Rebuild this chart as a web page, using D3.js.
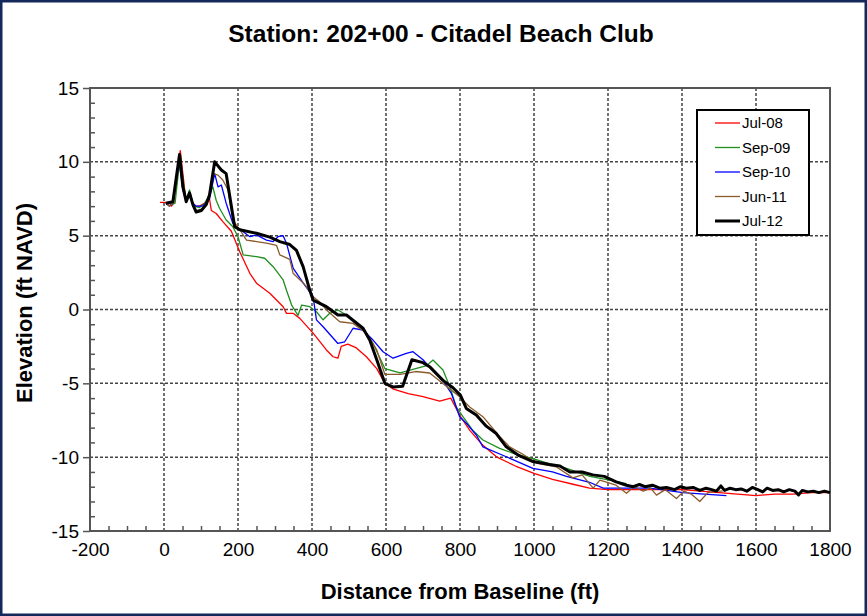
<!DOCTYPE html>
<html>
<head>
<meta charset="utf-8">
<script src="https://cdn.jsdelivr.net/npm/d3@7"></script>
<style>
  body { margin: 0; background: #fff; }
  svg { font-family: "Liberation Sans", Arial, sans-serif; }
</style>
</head>
<body>
<div id="chart"></div>
<script>

const title = "Station: 202+00 - Citadel Beach Club";
const xLabel = "Distance from Baseline (ft)";
const yLabel = "Elevation (ft NAVD)";

const xTicks = [-200, 0, 200, 400, 600, 800, 1000, 1200, 1400, 1600, 1800];
const yTicks = [-15, -10, -5, 0, 5, 10, 15];

const seriesNames = ["Jul-08", "Sep-09", "Sep-10", "Jun-11", "Jul-12"];

const jul08X = [-11, 14, 20, 26, 44, 51, 59, 68, 74, 83, 96, 110, 123, 128, 141, 159, 182, 205, 232, 250, 286, 322, 331, 349, 367, 403, 439, 457, 470, 479, 497, 520, 547, 575, 597, 620, 660, 700, 745, 775, 800, 827, 862, 900, 950, 1000, 1050, 1100, 1150, 1200, 1270, 1350, 1400, 1450, 1500, 1550, 1600, 1650, 1700, 1750, 1800];
const jul08Y = [7.25, 7.24, 7.0, 7.2, 10.76, 9.2, 7.4, 7.76, 7.4, 7.0, 7.0, 7.2, 7.5, 6.7, 6.5, 5.95, 5.3, 3.9, 2.45, 1.78, 1.1, 0.19, -0.26, -0.26, -0.6, -1.6, -2.74, -3.2, -3.3, -2.5, -2.34, -2.6, -3.2, -4.0, -5.0, -5.4, -5.7, -5.9, -6.2, -6.0, -7.2, -8.2, -9.2, -10.0, -10.6, -11.1, -11.5, -11.8, -12.1, -12.2, -12.2, -12.2, -12.2, -12.3, -12.4, -12.5, -12.6, -12.5, -12.5, -12.4, -12.4];

const sep09X = [20, 30, 44, 51, 60, 69, 80, 96, 110, 119, 132, 141, 150, 168, 186, 200, 214, 250, 272, 295, 322, 331, 345, 362, 372, 394, 412, 430, 448, 470, 493, 529, 547, 565, 597, 638, 680, 710, 727, 754, 772, 790, 808, 835, 862, 907, 950, 997, 1050, 1088, 1151, 1205, 1250];
const sep09Y = [7.1, 7.2, 10.5, 8.8, 7.4, 8.1, 7.0, 6.9, 7.2, 7.6, 8.3, 7.4, 6.86, 6.06, 5.6, 4.93, 3.7, 3.58, 3.47, 2.9, 2.0, 1.3, 0.3, -0.4, 0.3, 0.19, -0.15, -0.7, -0.26, -0.03, -0.37, -1.17, -1.6, -2.3, -4.0, -4.3, -4.0, -3.8, -3.42, -4.1, -5.2, -6.6, -7.26, -8.2, -8.84, -9.4, -9.8, -10.1, -10.5, -10.76, -11.3, -11.55, -11.8];

const sep10X = [5, 15, 24, 40, 51, 60, 69, 78, 87, 105, 123, 137, 146, 155, 168, 186, 196, 232, 250, 277, 295, 308, 322, 331, 349, 376, 403, 412, 430, 470, 488, 511, 538, 565, 592, 619, 655, 673, 700, 718, 754, 777, 799, 817, 844, 862, 925, 997, 1050, 1088, 1150, 1187, 1250, 1313, 1403, 1460, 1520];
const sep10Y = [7.2, 7.0, 7.2, 10.2, 8.1, 7.4, 7.7, 7.2, 7.0, 7.0, 7.5, 9.2, 8.3, 8.43, 7.2, 5.84, 5.6, 4.93, 5.05, 4.7, 4.6, 4.93, 5.0, 4.49, 2.8, 1.8, 0.87, -0.7, -1.17, -2.3, -2.2, -1.27, -1.4, -2.07, -2.86, -3.3, -2.97, -2.86, -3.4, -3.9, -4.8, -5.7, -7.26, -7.7, -8.5, -9.3, -9.97, -10.76, -11.0, -11.3, -11.7, -12.1, -12.1, -12.1, -12.4, -12.5, -12.6];

const jun11X = [5, 15, 24, 42, 51, 60, 69, 78, 87, 101, 114, 123, 133, 146, 159, 173, 186, 205, 223, 250, 277, 304, 313, 340, 349, 376, 385, 403, 421, 439, 475, 511, 547, 575, 597, 638, 680, 718, 763, 799, 826, 862, 907, 934, 970, 1006, 1060, 1105, 1130, 1160, 1178, 1222, 1250, 1270, 1295, 1315, 1331, 1355, 1385, 1405, 1425, 1448, 1470, 1493, 1510];
const jun11Y = [7.2, 7.0, 7.2, 10.4, 8.3, 7.3, 7.9, 7.1, 6.7, 6.8, 7.1, 7.7, 9.2, 9.1, 8.77, 8.1, 6.06, 5.4, 4.7, 4.6, 4.49, 4.35, 3.7, 3.4, 2.45, 1.8, 1.55, 0.87, 0.5, -0.03, -0.83, -0.94, -1.6, -2.74, -4.4, -4.4, -4.2, -4.3, -5.2, -5.9, -6.6, -7.26, -8.6, -9.3, -9.8, -10.4, -10.65, -11.4, -11.2, -12.1, -11.55, -11.9, -12.45, -12.0, -12.3, -12.1, -12.57, -12.2, -12.8, -12.3, -12.5, -13.0, -12.4, -12.3, -12.3];

const jul12X = [5, 24, 42, 51, 60, 69, 78, 87, 101, 114, 123, 137, 155, 168, 191, 205, 250, 286, 313, 340, 358, 376, 394, 403, 439, 470, 493, 538, 556, 575, 597, 620, 645, 670, 700, 719, 754, 781, 801, 817, 844, 871, 898, 925, 960, 997, 1042, 1070, 1097, 1130, 1159, 1190, 1222, 1250, 1268, 1285, 1300, 1320, 1340, 1358, 1380, 1395, 1412, 1430, 1448, 1465, 1480, 1493, 1505, 1515, 1530, 1545, 1560, 1575, 1590, 1605, 1618, 1630, 1645, 1660, 1675, 1690, 1705, 1715, 1725, 1740, 1755, 1770, 1785, 1800];
const jul12Y = [7.2, 7.3, 10.5, 8.3, 7.3, 7.9, 7.1, 6.6, 6.7, 7.1, 7.76, 10.0, 9.45, 9.2, 5.6, 5.4, 5.16, 4.9, 4.6, 4.4, 4.0, 2.9, 1.3, 0.64, 0.19, -0.37, -0.37, -1.27, -2.07, -3.4, -5.0, -5.25, -5.2, -3.4, -3.6, -3.9, -4.8, -5.3, -5.8, -6.7, -7.15, -7.9, -8.4, -9.3, -9.9, -10.3, -10.5, -10.6, -11.0, -11.0, -11.2, -11.3, -11.67, -11.9, -12.0, -11.85, -12.0, -11.9, -12.1, -12.05, -12.2, -12.0, -12.1, -12.05, -12.25, -12.1, -12.2, -12.3, -11.95, -12.25, -12.1, -12.2, -12.15, -12.3, -12.05, -12.2, -12.35, -12.1, -12.25, -12.2, -12.35, -12.2, -12.3, -12.55, -12.25, -12.35, -12.3, -12.4, -12.3, -12.4];

const seriesX = [jul08X, sep09X, sep10X, jun11X, jul12X];
const seriesY = [jul08Y, sep09Y, sep10Y, jun11Y, jul12Y];
const colors = ["#ff0000", "#1f8f1f", "#0000ff", "#8b5a2b", "#000000"];
const widths = [1.3, 1.3, 1.3, 1.3, 3];

const W = 867, H = 616;
const pLeft = 90, pRight = 830, pTop = 88, pBottom = 531;

const svg = d3.select("#chart")
    .append("svg")
    .attr("width", W)
    .attr("height", H);

svg.append("rect")
    .attr("x", 1.25).attr("y", 1.25)
    .attr("width", W - 2.5).attr("height", H - 2.5)
    .attr("fill", "#fff")
    .attr("stroke", "#13295b")
    .attr("stroke-width", 2.5);

const xScale = d3.scaleLinear().domain([-200, 1800]).range([pLeft, pRight]);
const yScale = d3.scaleLinear().domain([-15, 15]).range([pBottom, pTop]);

// grid
svg.append("g")
    .selectAll("line")
    .data(xTicks.slice(1, -1))
    .enter()
    .append("line")
    .attr("x1", d => xScale(d)).attr("x2", d => xScale(d))
    .attr("y1", pTop).attr("y2", pBottom)
    .attr("stroke", "#444").attr("stroke-width", 1.5)
    .attr("stroke-dasharray", "3,2");

svg.append("g")
    .selectAll("line")
    .data(yTicks.slice(1, -1))
    .enter()
    .append("line")
    .attr("x1", pLeft).attr("x2", pRight)
    .attr("y1", d => yScale(d)).attr("y2", d => yScale(d))
    .attr("stroke", "#444").attr("stroke-width", 1.5)
    .attr("stroke-dasharray", "3,2");

// minor ticks, pointing inside
const xMinor = d3.range(-200, 1801, 50).filter(d => d % 200 !== 0);
const yMinor = d3.range(-15, 15.01, 1).filter(d => d % 5 !== 0);

svg.append("g")
    .attr("transform", `translate(0, ${pBottom})`)
    .call(d3.axisTop(xScale).tickValues(xMinor).tickSize(5).tickFormat(""))
    .call(g => g.select(".domain").remove())
    .selectAll("line").attr("stroke", "#555").attr("stroke-width", 1.5);

svg.append("g")
    .attr("transform", `translate(${pLeft}, 0)`)
    .call(d3.axisRight(yScale).tickValues(yMinor).tickSize(5).tickFormat(""))
    .call(g => g.select(".domain").remove())
    .selectAll("line").attr("stroke", "#555").attr("stroke-width", 1.5);

// Y-Axis
const yAxis = svg.append("g")
    .attr("transform", `translate(${pLeft}, 0)`)
    .call(d3.axisLeft(yScale).tickValues(yTicks).tickSize(7).tickPadding(4)
        .tickSizeOuter(0).tickFormat(d => String(d)));
yAxis.select(".domain").remove();
yAxis.selectAll("line").attr("stroke", "#555").attr("stroke-width", 1.5);
yAxis.selectAll("text").attr("font-size", 19).attr("fill", "#000")
    .attr("font-family", "Liberation Sans, Arial, sans-serif");

// X-Axis
const xAxis = svg.append("g")
    .attr("transform", `translate(0, ${pBottom})`)
    .call(d3.axisBottom(xScale).tickValues(xTicks).tickSize(0).tickPadding(12)
        .tickFormat(d => String(d)));
xAxis.select(".domain").remove();
xAxis.selectAll("text").attr("font-size", 19).attr("fill", "#000")
    .attr("font-family", "Liberation Sans, Arial, sans-serif");

// plot frame
svg.append("rect")
    .attr("x", pLeft).attr("y", pTop)
    .attr("width", pRight - pLeft).attr("height", pBottom - pTop)
    .attr("fill", "none")
    .attr("stroke", "#555")
    .attr("stroke-width", 2);

// lines
const line = d3.line()
    .x(d => xScale(d[0]))
    .y(d => yScale(d[1]));

seriesX.forEach((xs, i) => {
    const pts = xs.map((x, j) => [x, seriesY[i][j]]);
    svg.append("path")
        .datum(pts)
        .attr("d", line)
        .attr("fill", "none")
        .attr("stroke", colors[i])
        .attr("stroke-width", widths[i])
        .attr("stroke-linejoin", "round");
});

// legend
const legend = svg.append("g").attr("transform", "translate(697, 110)");
legend.append("rect")
    .attr("width", 112).attr("height", 125)
    .attr("fill", "#fff")
    .attr("stroke", "#000")
    .attr("stroke-width", 2);

seriesNames.forEach((name, i) => {
    const y = 13 + i * 24.5;
    legend.append("line")
        .attr("x1", 18).attr("x2", 43)
        .attr("y1", y).attr("y2", y)
        .attr("stroke", colors[i])
        .attr("stroke-width", widths[i]);
    legend.append("text")
        .attr("x", 45).attr("y", y + 5)
        .attr("font-size", 15)
        .text(name);
});

// Title
svg.append("text")
    .attr("x", 441).attr("y", 42)
    .attr("text-anchor", "middle")
    .attr("font-size", 24.5)
    .attr("font-weight", "bold")
    .text(title);

// Axis-Labels
svg.append("text")
    .attr("x", 460).attr("y", 599)
    .attr("text-anchor", "middle")
    .attr("font-size", 22)
    .attr("font-weight", "bold")
    .text(xLabel);

svg.append("text")
    .attr("transform", "translate(32, 303) rotate(-90)")
    .attr("text-anchor", "middle")
    .attr("font-size", 22)
    .attr("font-weight", "bold")
    .text(yLabel);

</script>
</body>
</html>
